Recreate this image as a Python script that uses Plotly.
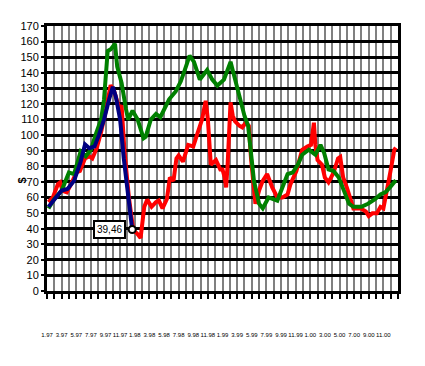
import plotly.graph_objects as go

# Category grid: 49 positions (0..48), labelled every second one
tick_positions = list(range(49))
tick_labels = ["1.97", "3.97", "5.97", "7.97", "9.97", "11.97",
               "1.98", "3.98", "5.98", "7.98", "9.98", "11.98",
               "1.99", "3.99", "5.99", "7.99", "9.99", "11.99",
               "1.00", "3.00", "5.00", "7.00", "9.00", "11.00"]

red_x = [0.2, 0.8, 1.5, 1.8, 2.1, 2.7, 3.3, 4.0, 4.5, 5.2, 5.8, 6.2, 6.8, 7.4, 8.1, 8.7, 9.2, 9.9,
         10.2, 10.6, 11.2, 11.8, 12.3, 12.8, 13.3, 13.7, 14.3, 14.9, 15.3, 15.8, 16.4, 16.8, 17.3,
         17.7, 18.0, 18.6, 19.3, 20.0, 20.5, 21.2, 21.7, 22.0, 22.4, 23.1, 23.7, 24.0, 24.3, 24.5,
         24.7, 24.9, 25.1, 25.4, 25.7, 26.3, 26.7, 27.2, 27.6, 27.9, 28.1, 28.5, 29.0, 29.5, 30.1,
         30.8, 31.5, 32.2, 32.9, 33.3, 34.1, 34.9, 35.6, 36.1, 36.5, 36.7, 37.0, 37.6, 38.0, 38.5,
         39.2, 39.8, 40.1, 40.5, 41.0, 41.6, 41.9, 42.9, 43.6, 44.0, 44.5, 45.1, 45.6, 46.0, 46.5,
         46.9, 47.5, 47.7]
red_v = [57, 60, 68.6, 69.7, 64.4, 63.4, 68.6, 76, 77, 85, 86.4, 85, 91.6, 102, 117, 132, 128, 117,
         119, 89.5, 60, 39, 37, 34, 54, 58.6, 54, 57, 58, 53, 59, 72.8, 70.7,
         85, 87, 83, 93.7, 92.7, 100, 110, 122, 110, 81, 84, 78, 78, 72.8, 66.5,
         81, 100, 121, 112.5, 109, 106, 105, 108, 106, 85, 72.8, 56, 64.4, 70.7, 75,
         66.5, 60, 60, 62, 68.6, 77, 90.6, 92.7, 93.7, 108, 93.7, 84, 81, 72.8, 69.7,
         76, 85, 86, 72.8, 66.5, 57, 53, 53, 51, 48, 49.8, 49.8, 54, 53, 64.4,
         75, 90.6, 92]

green_x = [0.2, 1.0, 2.0, 3.0, 3.7, 4.6, 5.3, 6.0, 6.7, 7.4, 7.8, 8.3, 8.7, 9.3, 9.6, 10.2, 10.8,
           11.1, 11.7, 12.4, 13.2, 13.5, 14.2, 14.9, 15.5, 16.0, 16.7, 17.6, 18.3, 19.0, 19.5, 20.1,
           20.9, 21.9, 22.6, 23.3, 24.2, 25.1, 25.5, 26.3, 27.0, 27.5, 27.9, 28.3, 29.0, 29.5, 30.3,
           30.8, 31.5, 32.2, 32.9, 33.6, 34.3, 34.9, 35.8, 36.7, 37.4, 37.9, 38.5, 39.2, 39.9, 40.6,
           41.3, 41.9, 43.0, 43.9, 44.9, 45.6, 46.3, 46.9, 47.7]
green_v = [53, 59, 64.4, 76, 75, 89.5, 86.4, 90.6, 101, 110, 123, 154, 155, 158.6, 144, 133.5, 116.7,
           110, 115.7, 110, 98, 99, 110, 113.6, 111.5, 116.7, 123, 128, 134.5, 144, 151, 147,
           135.6, 141.8, 135.6, 131.8, 135.6, 147, 139.7, 125, 112.5, 106, 85, 70.7, 56, 53, 60,
           59, 58, 66.5, 75, 76, 81, 87.4, 90.6, 87.4, 93.7, 88.5, 78, 77, 72.8, 64.4,
           56, 54, 54, 56, 59, 62, 63.4, 66.5, 71]

blue_x = [0.2, 1.0, 2.0, 2.8, 3.7, 4.6, 5.2, 5.8, 6.5, 7.1, 7.8, 8.5, 9.0, 9.4, 10.0, 10.5, 11.0,
          11.4, 11.65]
blue_v = [54, 59, 64.4, 65.5, 70.7, 83, 94, 91.6, 92.7, 100, 110, 123, 131, 125, 110, 85, 64,
          48, 39.46]

last_label = "39,46"
y_title = "$"

font_main = "Arial, Liberation Sans, sans-serif"

fig = go.Figure()
fig.add_trace(go.Scatter(x=red_x, y=red_v, mode="lines",
                         line=dict(color="#FF0000", width=4), showlegend=False))
fig.add_trace(go.Scatter(x=green_x, y=green_v, mode="lines",
                         line=dict(color="#008000", width=4), showlegend=False))
fig.add_trace(go.Scatter(x=blue_x, y=blue_v, mode="lines",
                         line=dict(color="#000080", width=4), showlegend=False))
fig.add_trace(go.Scatter(x=[blue_x[-1]], y=[blue_v[-1]], mode="markers",
                         marker=dict(symbol="circle", size=7, color="white",
                                     line=dict(color="black", width=2)),
                         showlegend=False))

fig.add_annotation(x=blue_x[-1], y=blue_v[-1], text=last_label, showarrow=False,
                   xanchor="right", yanchor="middle", xshift=-6,
                   bordercolor="black", borderwidth=2, borderpad=2, bgcolor="white",
                   font=dict(family=font_main, size=10, color="black"))

fig.add_annotation(xref="paper", yref="paper", x=-0.094, y=0.417, text="<b>" + y_title + "</b>",
                   textangle=-90, showarrow=False,
                   font=dict(family=font_main, size=11, color="black"))

ticktext = []
for i in tick_positions:
    ticktext.append(tick_labels[i // 2] if (i % 2 == 0 and i // 2 < len(tick_labels)) else "")

fig.update_layout(
    width=417, height=358,
    margin=dict(l=39, r=27, t=12, b=75),
    paper_bgcolor="white", plot_bgcolor="white",
    font=dict(family=font_main, size=10, color="black"),
    xaxis=dict(range=[0, 48], tickmode="array", tickvals=tick_positions, ticktext=ticktext,
               showgrid=True, gridcolor="#808080", gridwidth=2,
               showline=True, linecolor="black", linewidth=3, mirror=True,
               ticks="outside", ticklen=5, tickwidth=2, tickcolor="black",
               tickangle=0, ticklabelstandoff=31,
               tickfont=dict(size=6, family=font_main, color="black"),
               zeroline=False, fixedrange=True),
    yaxis=dict(range=[0, 170], dtick=10, tick0=0,
               showgrid=True, gridcolor="black", gridwidth=2.5,
               showline=True, linecolor="black", linewidth=3, mirror=True,
               ticks="outside", ticklen=3, tickwidth=2, tickcolor="black",
               tickfont=dict(size=11, family=font_main, color="black"),
               zeroline=False, fixedrange=True),
)

fig.write_html("out.html")
